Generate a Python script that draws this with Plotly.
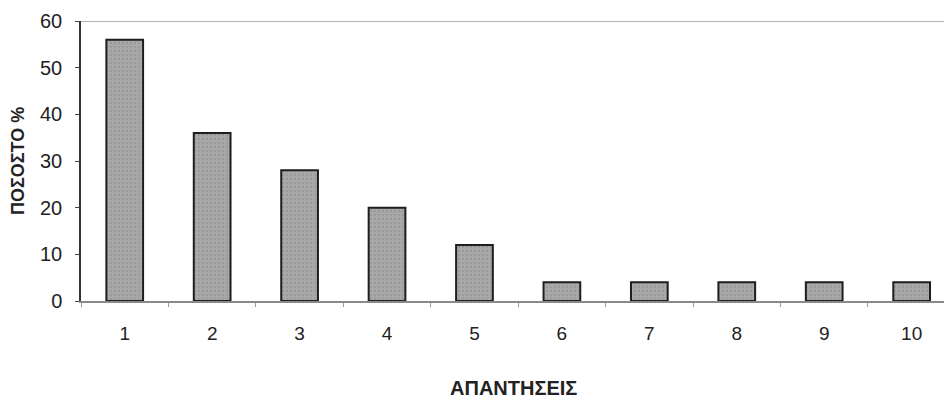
import plotly.graph_objects as go

# Responses (answer index) and the percentage of respondents for each
answers = [1, 2, 3, 4, 5, 6, 7, 8, 9, 10]
percent = [56, 36, 28, 20, 12, 4, 4, 4, 4, 4]
y_ticks = [0, 10, 20, 30, 40, 50, 60]

x_title = "ΑΠΑΝΤΗΣΕΙΣ"
y_title = "ΠΟΣΟΣΤΟ %"

font_family = "Liberation Sans, Arial, sans-serif"

fig = go.Figure()
fig.add_trace(go.Bar(
    x=answers,
    y=percent,
    width=0.42,
    marker=dict(
        color="#a3a3a3",
        line=dict(color="#1e1e1e", width=2),
        pattern=dict(shape=".", fgcolor="#8a8a8a", bgcolor="#a8a8a8", size=4, solidity=0.25),
    ),
    hoverinfo="x+y",
))

# top border of the plot area
fig.add_shape(type="line", xref="paper", yref="y", x0=0, x1=1, y0=60, y1=60,
              line=dict(color="#9a9a9a", width=1.5))

fig.update_layout(
    width=944, height=401,
    margin=dict(l=81, r=0, t=21, b=100),
    paper_bgcolor="white", plot_bgcolor="white",
    showlegend=False,
    font=dict(family=font_family, size=19, color="#222222"),
    xaxis=dict(
        range=[0.5, 10.37],
        tickmode="array", tickvals=answers, ticktext=[str(a) for a in answers],
        ticks="", showgrid=False, zeroline=False,
        showline=True, linecolor="#8a8a8a", linewidth=1.5,
        tickfont=dict(size=19, color="#222222"),
        ticklabelstandoff=14,
        minor=dict(tick0=0.5, dtick=1, ticks="outside", ticklen=4,
                   tickcolor="#9a9a9a", tickwidth=1, showgrid=False),
    ),
    yaxis=dict(
        range=[0, 60],
        tickmode="array", tickvals=y_ticks,
        ticks="outside", ticklen=4, tickcolor="#444444", tickwidth=1,
        showgrid=False, zeroline=False,
        showline=True, linecolor="#333333", linewidth=1.5,
        tickfont=dict(size=20, color="#222222"),
        ticklabelstandoff=9,
    ),
    annotations=[
        dict(text=f"<b>{x_title}</b>", xref="paper", yref="paper",
             x=(513 - 81) / 863, y=(301 - 388) / 280, showarrow=False,
             xanchor="center", yanchor="middle",
             font=dict(size=20, color="#222222", family=font_family)),
        dict(text=f"<b>{y_title}</b>", xref="paper", yref="paper",
             x=(18 - 81) / 863, y=0.5, showarrow=False, textangle=-90,
             xanchor="center", yanchor="middle",
             font=dict(size=18, color="#222222", family=font_family)),
    ],
)

fig.write_html("out.html")
